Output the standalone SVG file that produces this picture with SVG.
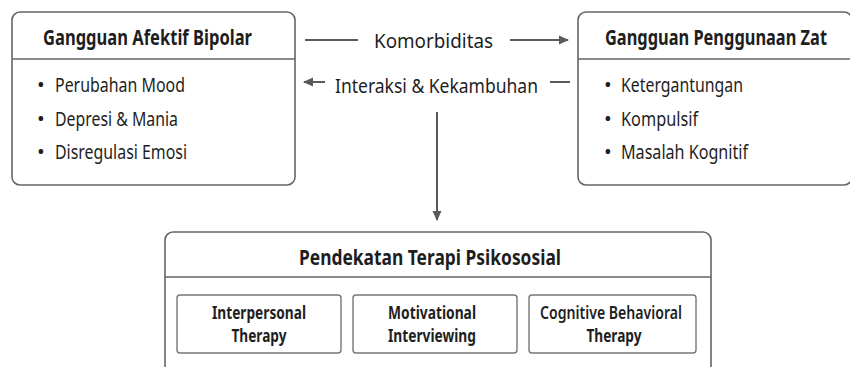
<svg xmlns="http://www.w3.org/2000/svg" width="850" height="367" viewBox="0 0 850 367">
<style>
.box{fill:#fff;stroke:#666;stroke-width:1.6}
.div{stroke:#666;stroke-width:1.6}
.sub{fill:#fff;stroke:#777;stroke-width:1.4}
.t{font-family:"Noto Sans","Open Sans",sans-serif;fill:#1e1e1e}
.h{font-weight:bold;font-size:21px}
.b{font-size:20.5px}
.s{font-weight:bold;font-size:18px;text-anchor:middle}
.c{fill:none;stroke:#5a5a5a;stroke-width:2}
</style>
<defs>
<marker id="ah" viewBox="0 0 10 10" refX="9" refY="5" markerWidth="10" markerHeight="10" markerUnits="userSpaceOnUse" orient="auto">
<path d="M0,0.5 L10,5 L0,9.5 z" fill="#5a5a5a"/>
</marker>
</defs>
<rect width="850" height="367" fill="#fff"/>
<g id="connectors">
<line class="c" x1="305" y1="40" x2="358" y2="40"/>
<line class="c" x1="510" y1="40" x2="568" y2="40" marker-end="url(#ah)"/>
<line class="c" x1="325" y1="82" x2="304" y2="82" marker-end="url(#ah)"/>
<line class="c" x1="550" y1="82" x2="570" y2="82"/>
<line class="c" x1="437" y1="112" x2="437" y2="220" marker-end="url(#ah)"/>
<text class="t b" x="374" y="48" textLength="119" lengthAdjust="spacingAndGlyphs">Komorbiditas</text>
<text class="t b" x="335" y="93" textLength="203" lengthAdjust="spacingAndGlyphs">Interaksi &amp; Kekambuhan</text>
</g>
<g id="bipolar">
<rect class="box" x="12" y="12" width="283" height="173" rx="8"/>
<line class="div" x1="12" y1="59" x2="295" y2="59"/>
<text class="t h" x="43" y="45" textLength="209" lengthAdjust="spacingAndGlyphs">Gangguan Afektif Bipolar</text>
<text class="t b" x="37" y="92">•<tspan x="55" textLength="130" lengthAdjust="spacingAndGlyphs">Perubahan Mood</tspan></text>
<text class="t b" x="37" y="126">•<tspan x="55" textLength="123" lengthAdjust="spacingAndGlyphs">Depresi &amp; Mania</tspan></text>
<text class="t b" x="37" y="159">•<tspan x="55" textLength="132" lengthAdjust="spacingAndGlyphs">Disregulasi Emosi</tspan></text>
</g>
<g id="zat">
<rect class="box" x="578" y="12" width="274" height="173" rx="8"/>
<line class="div" x1="578" y1="59" x2="852" y2="59"/>
<text class="t h" transform="translate(605 45) scale(0.8 1)" x="0" y="0" textLength="277.5" lengthAdjust="spacingAndGlyphs">Gangguan Penggunaan Zat</text>
<text class="t b" x="604" y="92">•<tspan x="621" textLength="122" lengthAdjust="spacingAndGlyphs">Ketergantungan</tspan></text>
<text class="t b" x="604" y="126">•<tspan x="621" textLength="77" lengthAdjust="spacingAndGlyphs">Kompulsif</tspan></text>
<text class="t b" x="604" y="159">•<tspan x="621" textLength="127" lengthAdjust="spacingAndGlyphs">Masalah Kognitif</tspan></text>
</g>
<g id="terapi">
<rect class="box" x="165" y="232" width="546" height="150" rx="8"/>
<line class="div" x1="165" y1="277" x2="711" y2="277"/>
<text class="t h" x="299" y="265" textLength="262" lengthAdjust="spacingAndGlyphs" style="font-size:22px">Pendekatan Terapi Psikososial</text>
</g>
<g id="ipt">
<rect class="sub" x="177" y="295" width="164" height="58" rx="3"/>
<text class="t s" x="259" y="319" textLength="94" lengthAdjust="spacingAndGlyphs">Interpersonal</text>
<text class="t s" x="259" y="342" textLength="55" lengthAdjust="spacingAndGlyphs">Therapy</text>
</g>
<g id="mi">
<rect class="sub" x="353" y="295" width="164" height="58" rx="3"/>
<text class="t s" x="432" y="319" textLength="88" lengthAdjust="spacingAndGlyphs">Motivational</text>
<text class="t s" x="432" y="342" textLength="88" lengthAdjust="spacingAndGlyphs">Interviewing</text>
</g>
<g id="cbt">
<rect class="sub" x="529" y="295" width="167" height="58" rx="3"/>
<text class="t s" x="611" y="319" textLength="142" lengthAdjust="spacingAndGlyphs" style="font-weight:600">Cognitive Behavioral</text>
<text class="t s" x="614" y="342" textLength="55" lengthAdjust="spacingAndGlyphs">Therapy</text>
</g>
</svg>
